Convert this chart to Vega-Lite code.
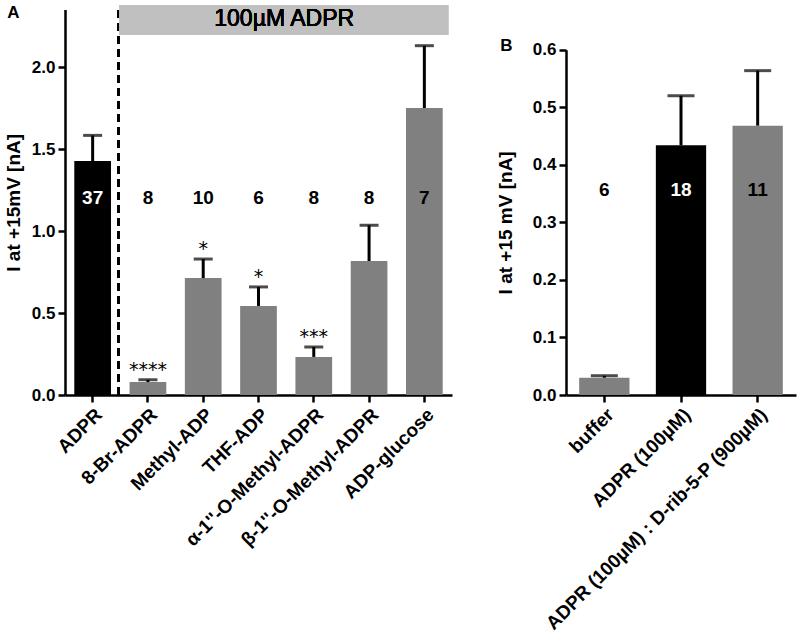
{
  "$schema": "https://vega.github.io/schema/vega-lite/v6.json",
  "padding": {"left": 4, "top": 3, "right": 5, "bottom": 5},
  "background": "white",
  "config": {
    "font": "Liberation Sans",
    "view": {"stroke": null},
    "axis": {
      "grid": false,
      "domainColor": "black",
      "domainWidth": 2.5,
      "tickColor": "black",
      "tickWidth": 2.5,
      "tickSize": 7,
      "labelFont": "Liberation Sans",
      "labelFontWeight": "bold",
      "labelColor": "black",
      "labelLimit": 600,
      "titleFont": "Liberation Sans",
      "titleFontWeight": "bold",
      "titleColor": "black"
    },
    "axisX": {"labelAngle": -45, "labelFontSize": 19, "title": null, "labelPadding": 3},
    "axisY": {"labelFontSize": 17, "titleFontSize": 19, "labelPadding": 3},
    "title": {"font": "Liberation Sans", "fontWeight": "bold", "color": "black"}
  },
  "spacing": 44,
  "hconcat": [
    {
      "width": 387,
      "height": 390,
      "title": {"text": "A", "anchor": "start", "frame": "bounds", "fontSize": 17, "offset": -18, "dx": 3},
      "data": {
        "values": [
          {"name": "ADPR", "value": 1.427, "err": 1.583, "n": "37", "stars": "", "kind": "ADPR"},
          {"name": "8-Br-ADPR", "value": 0.079, "err": 0.093, "n": "8", "stars": "****", "kind": "analog"},
          {"name": "Methyl-ADP", "value": 0.713, "err": 0.829, "n": "10", "stars": "*", "kind": "analog"},
          {"name": "THF-ADP", "value": 0.543, "err": 0.659, "n": "6", "stars": "*", "kind": "analog"},
          {"name": "α-1''-O-Methyl-ADPR", "value": 0.232, "err": 0.293, "n": "8", "stars": "***", "kind": "analog"},
          {"name": "β-1''-O-Methyl-ADPR", "value": 0.817, "err": 1.035, "n": "8", "stars": "", "kind": "analog"},
          {"name": "ADP-glucose", "value": 1.75, "err": 2.13, "n": "7", "stars": "", "kind": "analog"}
        ]
      },
      "encoding": {
        "x": {"field": "name", "type": "nominal", "sort": null,
              "scale": {"paddingInner": 0.336, "paddingOuter": 0.168}}
      },
      "layer": [
        {
          "mark": {"type": "bar"},
          "encoding": {
            "y": {"field": "value", "type": "quantitative", "title": "I at +15mV [nA]",
                  "scale": {"domain": [0, 2.35], "range": [390, 4.6], "nice": false, "zero": true},
                  "axis": {"values": [0, 0.5, 1, 1.5, 2], "format": ".1f", "titlePadding": 8}},
            "color": {"field": "kind", "type": "nominal", "legend": null,
                      "scale": {"domain": ["ADPR", "analog"], "range": ["#000000", "#808080"]}}
          }
        },
        {
          "mark": {"type": "rule", "color": "black", "strokeWidth": 3},
          "encoding": {
            "y": {"field": "value", "type": "quantitative", "title": "I at +15mV [nA]"},
            "y2": {"field": "err"}
          }
        },
        {
          "mark": {"type": "tick", "color": "black", "thickness": 3, "size": 19},
          "encoding": {
            "y": {"field": "err", "type": "quantitative", "title": "I at +15mV [nA]"}
          }
        },
        {
          "mark": {"type": "text", "fontSize": 19, "fontWeight": "bold", "baseline": "middle"},
          "encoding": {
            "y": {"datum": 1.2, "type": "quantitative", "title": "I at +15mV [nA]"},
            "text": {"field": "n"},
            "color": {"condition": {"test": "datum.kind === 'ADPR'", "value": "white"}, "value": "black"}
          }
        },
        {
          "transform": [{"filter": "datum.stars !== ''"}],
          "mark": {"type": "text", "font": "DejaVu Sans", "fontSize": 19, "fontWeight": 400, "baseline": "alphabetic", "dy": -4, "color": "black"},
          "encoding": {
            "y": {"field": "err", "type": "quantitative", "title": "I at +15mV [nA]"},
            "text": {"field": "stars"}
          }
        },
        {
          "mark": {"type": "rule", "color": "black", "strokeWidth": 2.3, "strokeDash": [8, 5]},
          "encoding": {
            "x": {"datum": "ADPR", "type": "nominal", "bandPosition": 1.2},
            "y": {"datum": 0, "type": "quantitative", "title": "I at +15mV [nA]"},
            "y2": {"datum": 2.378}
          }
        },
        {
          "mark": {"type": "rect", "color": "#c0c0c0"},
          "encoding": {
            "x": {"datum": "8-Br-ADPR", "type": "nominal", "bandPosition": -0.27},
            "x2": {"datum": "ADP-glucose", "bandPosition": 1.15},
            "y": {"datum": 2.195, "type": "quantitative", "title": "I at +15mV [nA]"},
            "y2": {"datum": 2.378}
          }
        },
        {
          "mark": {"type": "text", "font": "Liberation Sans", "fontSize": 23, "fontWeight": 400, "color": "black", "baseline": "middle"},
          "encoding": {
            "x": {"datum": "THF-ADP", "type": "nominal", "bandPosition": 1.2},
            "y": {"datum": 2.29, "type": "quantitative", "title": "I at +15mV [nA]"},
            "text": {"value": "100µM ADPR"}
          }
        }
      ]
    },
    {
      "width": 230,
      "height": 390,
      "title": {"text": "B", "anchor": "start", "frame": "bounds", "fontSize": 17, "offset": -50, "dx": 4},
      "data": {
        "values": [
          {"name": "buffer", "value": 0.030, "err": 0.0335, "n": "6", "kind": "analog"},
          {"name": "ADPR (100µM)", "value": 0.434, "err": 0.520, "n": "18", "kind": "ADPR"},
          {"name": "ADPR (100µM) : D-rib-5-P (900µM)", "value": 0.468, "err": 0.5636, "n": "11", "kind": "analog"}
        ]
      },
      "encoding": {
        "x": {"field": "name", "type": "nominal", "sort": null,
              "scale": {"paddingInner": 0.344, "paddingOuter": 0.172}}
      },
      "layer": [
        {
          "mark": {"type": "bar"},
          "encoding": {
            "y": {"field": "value", "type": "quantitative", "title": "I at +15 mV [nA]",
                  "scale": {"domain": [0, 0.6], "range": [390, 44.7], "nice": false, "zero": true},
                  "axis": {"values": [0, 0.1, 0.2, 0.3, 0.4, 0.5, 0.6], "format": ".1f", "titlePadding": 17}},
            "color": {"field": "kind", "type": "nominal", "legend": null,
                      "scale": {"domain": ["ADPR", "analog"], "range": ["#000000", "#808080"]}}
          }
        },
        {
          "mark": {"type": "rule", "color": "black", "strokeWidth": 3},
          "encoding": {
            "y": {"field": "value", "type": "quantitative", "title": "I at +15 mV [nA]"},
            "y2": {"field": "err"}
          }
        },
        {
          "mark": {"type": "tick", "color": "black", "thickness": 3, "size": 27},
          "encoding": {
            "y": {"field": "err", "type": "quantitative", "title": "I at +15 mV [nA]"}
          }
        },
        {
          "mark": {"type": "text", "fontSize": 19, "fontWeight": "bold", "baseline": "middle"},
          "encoding": {
            "y": {"datum": 0.356, "type": "quantitative", "title": "I at +15 mV [nA]"},
            "text": {"field": "n"},
            "color": {"condition": {"test": "datum.kind === 'ADPR'", "value": "white"}, "value": "black"}
          }
        }
      ]
    }
  ]
}
